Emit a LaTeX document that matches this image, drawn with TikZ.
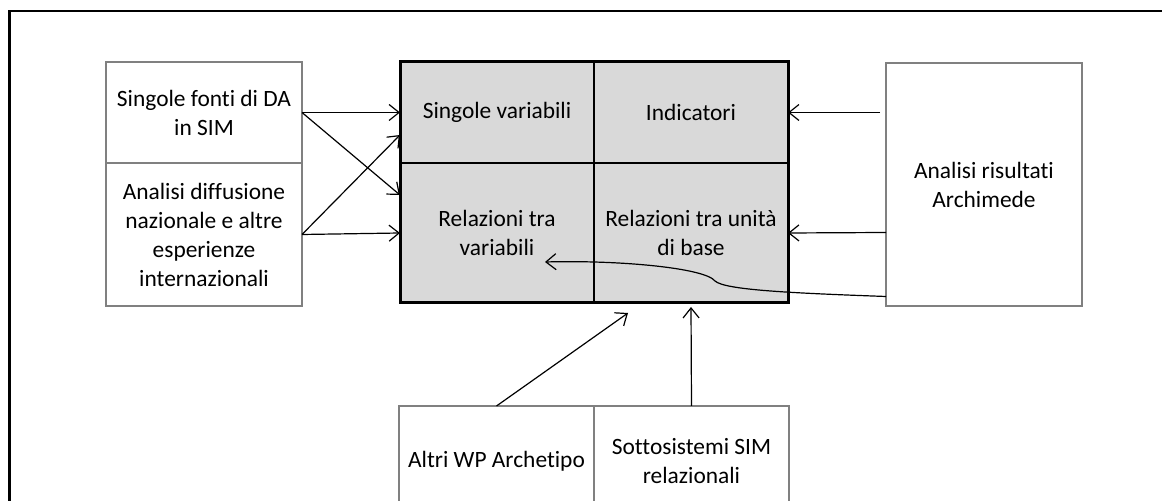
\documentclass[tikz,border=0pt]{standalone}
\usepackage{fontspec}
\setmainfont{Carlito}[RawFeature={-liga;-clig;-dlig;-calt}]
\usetikzlibrary{arrows.meta, positioning}
\definecolor{boxgray}{RGB}{128,128,128}
\definecolor{cellfill}{RGB}{217,217,217}
\tikzstyle{srcbox} = [rectangle, 
draw=boxgray, 
line width=1pt, 
fill=white, 
minimum width=98pt, 
text centered, 
align=center, 
inner sep=0pt, outer sep=0pt]
\tikzstyle{cell} = [rectangle, 
draw=black, 
line width=0.75pt, 
fill=cellfill, 
minimum width=97pt, 
text centered, 
align=center, 
inner sep=0pt, outer sep=0pt]
\tikzstyle{arrow} = [line width=0.6pt, -{Straight Barb[length=5pt,width=8pt]}]

\begin{document}
\begin{tikzpicture}[x=0.5pt, y=-0.5pt, node distance=0pt, font=\fontsize{11.7}{14.5}\selectfont]
        \clip (0,0) rectangle (1167,501);

        % --- Cornice ---
        \draw [line width=1.1pt] (9.5,520) |- (1162,11);

        % --- Griglia centrale ---
        \node (sv) [cell, minimum height=50.5pt] at (497,112.5) {Singole variabili};
        \node (ind) [cell, minimum height=50.5pt, right=of sv] {Indicatori};
        \node (rtv) [cell, minimum height=70pt, below=of sv] {Relazioni tra\\variabili};
        \node (rub) [cell, minimum height=70pt, below=of ind] {Relazioni tra unità\\di base};
        \draw [line width=1.5pt] (sv.north west) rectangle (rub.south east);

        % --- Fonti ---
        \node (sf) [srcbox, minimum height=50.5pt] at (204,112.5) {Singole fonti di DA\\in SIM};
        \node (ad) [srcbox, minimum height=71.5pt, below=of sf] {Analisi diffusione\\nazionale e altre\\esperienze\\internazionali};
        \node (ar) [srcbox, minimum height=121.5pt] at (984,184.5) {Analisi risultati\\Archimede};
        \node (aw) [srcbox, minimum width=97.5pt, minimum height=55pt] at (496.5,461) {Altri WP Archetipo};
        \node (ss) [srcbox, minimum width=97.5pt, minimum height=55pt, right=of aw] {Sottosistemi SIM\\relazionali};

        % --- Connessioni ---
        \draw [arrow] (sf.east) -- (sv.west);
        \draw [arrow] (sf.east) -- ([yshift=-16pt]rtv.north west);
        \draw [arrow] (ad.east) -- (rtv.west);
        \draw [arrow] (ad.east) -- ([yshift=14pt]sv.south west);
        \draw [arrow] ([xshift=-3pt,yshift=36pt]ar.west) -- (ind.east);
        \draw [arrow] ([yshift=-24pt]ar.west) -- (rub.east);
        \coordinate (kink) at (715,281);
        \draw [arrow] ([yshift=-56pt]ar.west) .. controls (790,293) and (725,290) .. (kink)
              .. controls (705,268) and (620,260) .. ([xshift=24pt,yshift=-14.5pt]rtv.center);
        \draw [arrow] (aw.north) -- ([xshift=17pt,yshift=-5pt]rub.south west);
        \draw [arrow] (ss.north) -- ([yshift=-2pt]rub.south);

    \end{tikzpicture}
\end{document}
